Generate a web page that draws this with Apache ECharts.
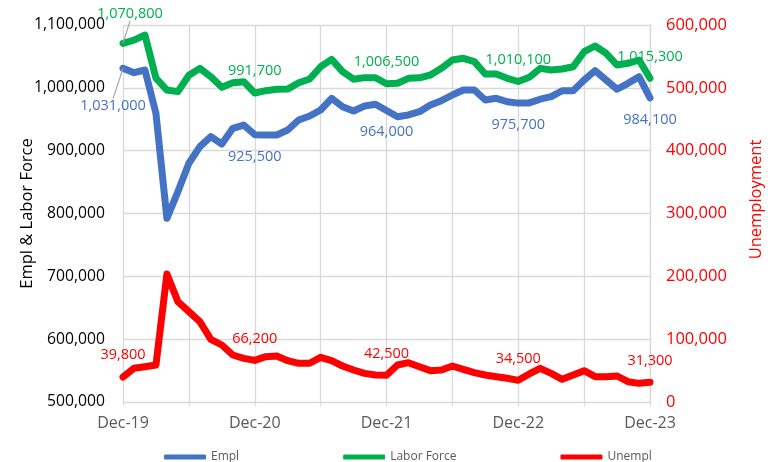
<!DOCTYPE html>
<html><head><meta charset="utf-8">
<script src="https://cdn.jsdelivr.net/npm/echarts@6/dist/echarts.min.js"></script>
<style>html,body{margin:0;padding:0;background:#fff}#c{width:773px;height:462px}</style>
</head><body><div id="c"></div>
<script>
var months = ["Dec-19","Jan-20","Feb-20","Mar-20","Apr-20","May-20","Jun-20","Jul-20","Aug-20","Sep-20","Oct-20","Nov-20",
"Dec-20","Jan-21","Feb-21","Mar-21","Apr-21","May-21","Jun-21","Jul-21","Aug-21","Sep-21","Oct-21","Nov-21",
"Dec-21","Jan-22","Feb-22","Mar-22","Apr-22","May-22","Jun-22","Jul-22","Aug-22","Sep-22","Oct-22","Nov-22",
"Dec-22","Jan-23","Feb-23","Mar-23","Apr-23","May-23","Jun-23","Jul-23","Aug-23","Sep-23","Oct-23","Nov-23","Dec-23"];
var empl = [1031000,1024100,1028400,959500,792300,834700,879900,906400,922300,910600,935600,940800,
925500,925000,925000,932900,948800,955200,964700,983300,970000,963100,971100,973800,
964000,954000,956800,962000,972700,979600,988600,996500,996500,980600,983300,977900,
975700,976000,981900,985900,995400,995400,1012500,1027300,1012500,997700,1007200,1017700,984100];
var laborForce = [1070800,1076000,1084000,1015600,996500,994000,1020000,1031000,1017700,1000800,1008000,1009800,
991700,995500,997700,998000,1008000,1014000,1033600,1045400,1025700,1013800,1016200,1016000,
1006500,1007200,1015100,1016000,1020400,1031000,1044300,1047000,1041600,1022000,1022000,1015200,
1010100,1016700,1031000,1028400,1030000,1033600,1057500,1066600,1055000,1036300,1039000,1044300,1015300];
var unempl = [39800,53600,56200,58900,203700,159700,143800,127800,99800,90700,74800,69500,
66200,72200,73200,65800,61600,61600,71100,65800,57300,50900,45600,43000,
42500,58900,62600,56200,49900,50900,57300,52000,46700,43000,40300,37700,
34500,44600,53600,45600,36100,43000,49900,40300,40300,41400,32300,29700,31300];
var leftTicks = {min:500000, max:1100000, step:100000};
var rightTicks = {min:0, max:600000, step:100000};

var FONT = "Open Sans";
var COLORS = {'Empl':'#4472c4', 'Labor Force':'#00b050', 'Unempl':'#ff0000'};
function fmt(v){ return Number(v).toLocaleString('en-US'); }
function build(arr, color, pos, leader){
  return arr.map(function(v,i){
    var o = {value:v};
    if (i % 12 === 0) {
      o.label = {show:true, position:pos, distance:14, align:'center', color:color, fontSize:14.5, fontFamily:FONT,
                 formatter:function(p){return fmt(p.value);}};
      if (i === 0) o.labelLine = {show:true, lineStyle:{color:'#a6a6a6', width:1.2, opacity: leader ? 1 : 0}};
    }
    return o;
  });
}
function lineSeries(name, axis, arr, pos, leader, dx, dy, z){
  var color = COLORS[name];
  return {name:name, type:'line', yAxisIndex:axis, data:build(arr,color,pos,leader),
    symbol:'circle', symbolSize:0.5, showSymbol:true, showAllSymbol:true,
    itemStyle:{color:'rgba(0,0,0,0)', borderWidth:0},
    lineStyle:{color:color, width:7, cap:'round', join:'round'},
    label:{show:false},
    labelLayout:function(p){ if(p.dataIndex===0) return {dx:dx, dy:dy}; },
    emphasis:{disabled:true}, z:z};
}
var chart = echarts.init(document.getElementById('c'), null, {renderer:'canvas'});
var gridColor = '#d9d9d9';
chart.setOption({
  animation:false,
  textStyle:{fontFamily:FONT},
  grid:{left:123, right:123, top:25, bottom:60, containLabel:false},
  legend:{
    left:159, top:446, itemGap:104, itemWidth:42, itemHeight:5, icon:'roundRect',
    textStyle:{color:'#595959', fontSize:12, fontFamily:FONT},
    data:Object.keys(COLORS).map(function(n){return {name:n, itemStyle:{color:COLORS[n]}};})
  },
  xAxis:{
    type:'category', data:months, boundaryGap:false,
    axisLine:{show:true, lineStyle:{color:gridColor}},
    axisTick:{show:true, length:4, interval:function(i){return i%6===0;}, lineStyle:{color:gridColor}},
    axisLabel:{interval:function(i){return i%12===0;}, color:'#595959', fontSize:16, margin:13, fontFamily:FONT},
    splitLine:{show:true, interval:function(i){return i%6===0;}, lineStyle:{color:gridColor, width:1.3}}
  },
  yAxis:[
    {type:'value', min:leftTicks.min, max:leftTicks.max, interval:leftTicks.step, position:'left',
     name:'Empl & Labor Force', nameLocation:'middle', nameGap:87, nameMoveOverlap:false,
     nameTextStyle:{color:'#000', fontSize:16.5, fontFamily:FONT},
     axisLine:{show:false}, axisTick:{show:false},
     axisLabel:{color:'#000', fontSize:15.7, margin:18, formatter:fmt, fontFamily:FONT},
     splitLine:{show:true, lineStyle:{color:gridColor, width:1.3}}},
    {type:'value', min:rightTicks.min, max:rightTicks.max, interval:rightTicks.step, position:'right',
     name:'Unemployment', nameLocation:'middle', nameGap:98, nameMoveOverlap:false,
     nameTextStyle:{color:'#ff0000', fontSize:16.5, fontFamily:FONT, padding:[0,0,0,28]},
     axisLine:{show:true, lineStyle:{color:gridColor, width:1.3}}, axisTick:{show:false},
     axisLabel:{color:'#ff0000', fontSize:16.5, margin:16, formatter:fmt, fontFamily:FONT},
     splitLine:{show:false}}
  ],
  series:[
    lineSeries('Empl', 0, empl, 'bottom', true, -10, 16, 3),
    lineSeries('Labor Force', 0, laborForce, 'top', true, 7, -8, 2),
    lineSeries('Unempl', 1, unempl, 'top', false, 0, 0, 1)
  ]
});
</script></body></html>
